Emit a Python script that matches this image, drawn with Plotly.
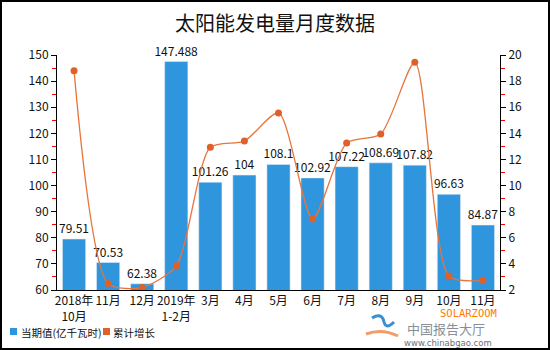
import plotly.graph_objects as go

months = ["2018年<br>10月", "11月", "12月", "2019年<br>1-2月", "3月", "4月", "5月",
          "6月", "7月", "8月", "9月", "10月", "11月"]
output_twh = [79.51, 70.53, 62.38, 147.488, 101.26, 104, 108.1, 102.92,
              107.22, 108.69, 107.82, 96.63, 84.87]
cum_growth = [18.8, 2.5, 2.2, 3.85, 12.93, 13.41, 15.56, 7.44, 13.26, 13.95,
              19.44, 3.07, 2.74]
bar_labels = ["79.51", "70.53", "62.38", "147.488", "101.26", "104", "108.1",
              "102.92", "107.22", "108.69", "107.82", "96.63", "84.87"]
series_names = ["当期值(亿千瓦时)", "累计增长"]

BLUE = "#2F96DD"
ORANGE = "#E8743B"
DOT = "#E0602A"
FONT = "Noto Sans CJK SC"

W, H = 550, 350
L, R, T, B = 57, 50, 55, 60
pw, ph = W - L - R, H - T - B


def px_x(x):
    return (x - L) / pw


def px_y(y):
    return (H - B - y) / ph


pos = list(range(len(months)))

fig = go.Figure()
fig.add_trace(go.Bar(
    x=pos, y=output_twh, marker_color=BLUE, width=0.68,
    text=bar_labels, textposition="outside", cliponaxis=False,
    constraintext="none",
    textfont=dict(size=12, color="#111", family=FONT),
    showlegend=False, yaxis="y",
))
fig.add_trace(go.Scatter(
    x=pos, y=cum_growth, mode="lines+markers", yaxis="y2",
    line=dict(color=ORANGE, width=1.3, shape="spline", smoothing=0.7),
    marker=dict(color=DOT, size=7), showlegend=False,
))

tickfont = dict(size=12, color="#111", family=FONT)

# legend swatches and labels
legend_shapes = [
    dict(type="rect", xref="paper", yref="paper",
         x0=px_x(10), x1=px_x(17), y0=px_y(335), y1=px_y(328),
         fillcolor=BLUE, line=dict(width=0)),
    dict(type="rect", xref="paper", yref="paper",
         x0=px_x(103), x1=px_x(110), y0=px_y(335), y1=px_y(328),
         fillcolor=DOT, line=dict(width=0)),
]
legend_ann = [
    dict(text=series_names[0], xref="paper", yref="paper", x=px_x(19), y=px_y(332),
         showarrow=False, xanchor="left", yanchor="middle",
         font=dict(size=10.5, color="#111", family=FONT)),
    dict(text=series_names[1], xref="paper", yref="paper", x=px_x(111), y=px_y(332),
         showarrow=False, xanchor="left", yanchor="middle",
         font=dict(size=10.5, color="#111", family=FONT)),
]

# small logo mark beside the site name
logo_shapes = [
    dict(type="path", xref="paper", yref="paper",
         path=(f"M {px_x(372)},{px_y(318)} Q {px_x(382)},{px_y(312)} {px_x(384)},{px_y(322)} "
               f"Q {px_x(386)},{px_y(330)} {px_x(394)},{px_y(322)}"),
         line=dict(color="#3a8fd0", width=3)),
    dict(type="path", xref="paper", yref="paper",
         path=(f"M {px_x(366)},{px_y(334)} Q {px_x(382)},{px_y(328)} {px_x(398)},{px_y(336)}"),
         line=dict(color="#F29C6B", width=3)),
]

fig.update_layout(
    width=W, height=H,
    margin=dict(l=L, r=R, t=T, b=B),
    paper_bgcolor="white", plot_bgcolor="white",
    showlegend=False,
    title=dict(text="太阳能发电量月度数据", x=0.5, xanchor="center",
               y=1 - 24 / H, yanchor="middle",
               font=dict(size=20, color="#111", family=FONT)),
    xaxis=dict(range=[-0.5, len(months) - 0.5], tickvals=pos, ticktext=months,
               showline=True, linecolor="black", linewidth=1, ticks="",
               tickfont=tickfont, showgrid=False, zeroline=False),
    yaxis=dict(range=[60, 150], dtick=10, showline=True, linecolor="black",
               ticks="outside", ticklen=5, tickcolor="black", showgrid=False,
               zeroline=False, tickfont=tickfont,
               minor=dict(dtick=5, ticks="outside", ticklen=4, tickcolor="red")),
    yaxis2=dict(range=[2, 20], dtick=2, overlaying="y", side="right",
                showline=True, linecolor="black", ticks="outside", ticklen=5,
                tickcolor="black", showgrid=False, zeroline=False,
                tickfont=tickfont,
                minor=dict(dtick=1, ticks="outside", ticklen=4, tickcolor="red")),
    shapes=[dict(type="rect", xref="paper", yref="paper",
                 x0=px_x(1), x1=px_x(W - 1), y0=px_y(H - 1), y1=px_y(1),
                 line=dict(color="black", width=2), fillcolor="rgba(0,0,0,0)")]
           + legend_shapes + logo_shapes,
    annotations=legend_ann + [
        dict(text="SOLARZOOM", xref="paper", yref="paper", x=px_x(468), y=px_y(312.5),
             showarrow=False, xanchor="center", yanchor="middle", borderpad=0,
             font=dict(size=10.5, color="#FF7A00", family="DejaVu Sans Mono")),
        dict(text="中国报告大厅", xref="paper", yref="paper", x=px_x(446), y=px_y(328.5),
             showarrow=False, xanchor="center", yanchor="middle", borderpad=0,
             font=dict(size=13, color="#8a8f96", family=FONT)),
        dict(text="www.chinabgao.com", xref="paper", yref="paper", x=px_x(448), y=px_y(343),
             showarrow=False, xanchor="center", yanchor="middle", borderpad=0,
             font=dict(size=8.5, color="#6b7078", family="DejaVu Sans")),
    ],
)

fig.write_html("out.html")
